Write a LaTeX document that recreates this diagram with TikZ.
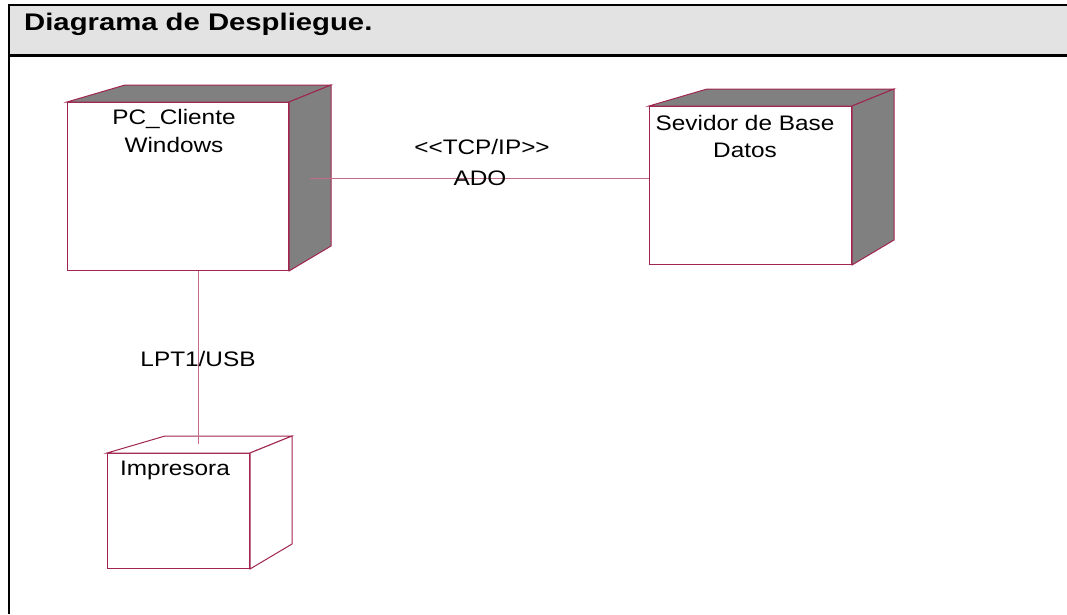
\documentclass[tikz,border=0pt]{standalone}
\usepackage{fontspec}
\setmainfont{Liberation Sans}[FakeStretch=1.16, Ligatures=TeXOff]
\newfontfamily\titlefont{Liberation Sans}[FakeStretch=1.22]
\usetikzlibrary{calc, positioning}
\definecolor{roseLine}{HTML}{A0264F}
\definecolor{roseLink}{HTML}{C46A8A}
\definecolor{roseGray}{HTML}{808080}
\definecolor{headGray}{HTML}{E3E3E3}
\tikzset{
  front/.style={rectangle, draw=roseLine, fill=white, line width=1pt,
                inner sep=0pt, anchor=north west},
  face/.style={draw=roseLine, line width=1pt, line join=miter},
  nodeText/.style={font=\fontsize{21}{27.5}\selectfont, align=center,
                   anchor=base, inner sep=0pt},
  link/.style={draw=roseLink, line width=1pt},
}
% top and side faces of a deployment node
\newcommand{\nodecube}[2]{%
  \filldraw[face, fill=#2] (#1.north west) -- ++(58,-17)
    -- ($(#1.north east)+(42,-17)$) -- (#1.north east) -- cycle;
  \filldraw[face, fill=#2] (#1.north east) -- ++(42,-17)
    -- ($(#1.south east)+(42,-25)$) -- (#1.south east) -- cycle;}

\begin{document}
\begin{tikzpicture}[x=1pt, y=-1pt]
  \useasboundingbox (0,0) rectangle (1067,614);
  \fill[headGray] (9,5) rectangle (1067,55.5);
  \draw[line width=2.2pt] (1067,5) -- (9,5) -- (9,614);
  \draw[line width=2.2pt] (9,55.5) -- (1067,55.5);
  \node[anchor=base west, inner sep=0pt,
        font=\titlefont\bfseries\fontsize{24}{28}\selectfont]
        (title) at (24,30.5) {Diagrama de Despliegue.};

  \node[front, minimum width=221, minimum height=168] (pc) at (67,102) {};
  \nodecube{pc}{roseGray}
  % base of a two-line text is its last line
  \node[nodeText] (pcTxt) at (174,152) {PC\_Cliente\\Windows};

  \node[front, minimum width=202, minimum height=158] (srv) at (649,106) {};
  \nodecube{srv}{roseGray}
  \node[nodeText] (srvTxt) at (745,157.5) {Sevidor de Base\\Datos};

  \node[front, minimum width=142, minimum height=115] (imp) at (107,453) {};
  \nodecube{imp}{white}
  \node[nodeText] (impTxt) at (175,475) {Impresora};

  \coordinate (tcpEnd) at (310,178);
  \draw[link] (tcpEnd) -- (tcpEnd -| srv.west);
  \node[nodeText] (tcp) at (482,154) {<<TCP/IP>>};
  \node[nodeText] (ado) at (480,185) {ADO};

  \coordinate (usbEnd) at (198,444);
  \draw[link] (usbEnd |- pc.south) -- (usbEnd);
  \node[nodeText] (usb) at (198,366) {LPT1/USB};
\end{tikzpicture}
\end{document}
